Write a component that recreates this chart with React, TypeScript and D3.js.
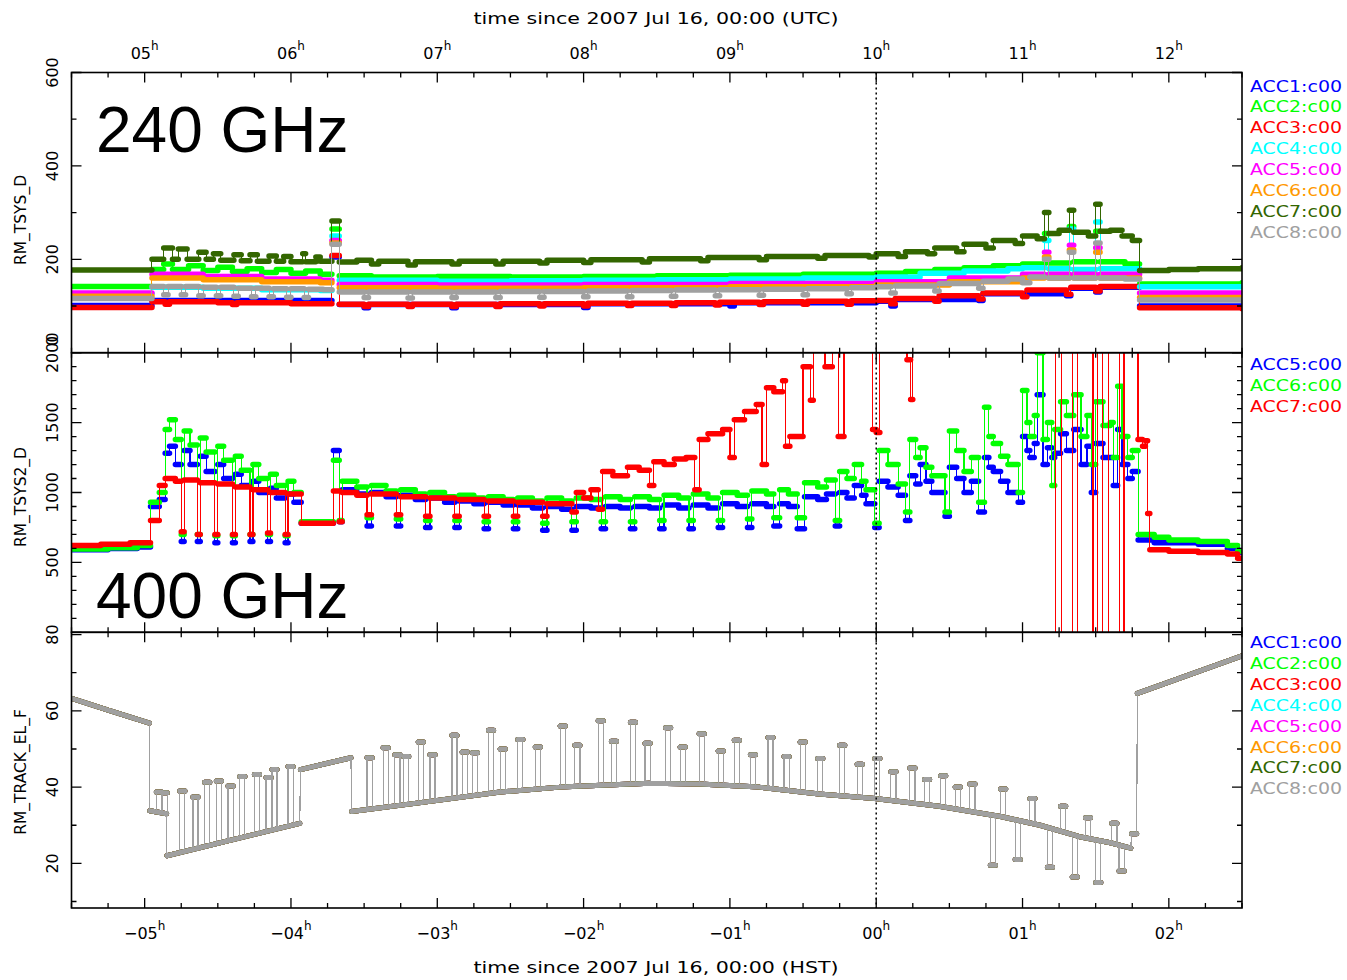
import * as d3 from 'd3';

type Pt = [number, number];
type Spike = [number, number, number];

const W = 1347;
const H = 980;
const X0 = 71.5;
const X1 = 1242;
const T0 = 4.5;
const T1 = 12.5;

const utcHourTicks = [5, 6, 7, 8, 9, 10, 11, 12];
const utcTickLabels = ['05', '06', '07', '08', '09', '10', '11', '12'];
const hstTickLabels = ['\u221205', '\u221204', '\u221203', '\u221202', '\u221201', '00', '01', '02'];

const accLabels = ['ACC1:c00', 'ACC2:c00', 'ACC3:c00', 'ACC4:c00', 'ACC5:c00', 'ACC6:c00', 'ACC7:c00', 'ACC8:c00'];
const accColors = ['#0000ff', '#00ff00', '#ff0000', '#00ffff', '#ff00ff', '#ff9900', '#336600', '#a0a0a0'];
const tsys2Labels = ['ACC5:c00', 'ACC6:c00', 'ACC7:c00'];
const tsys2Colors = ['#0000ff', '#00ff00', '#ff0000'];

// RM_TSYS_D (240 GHz), step samples [hour UTC, K]
const tsysAcc1: Pt[] = [[4.5,101],[5.05,112],[6.28,205],[6.33,103],[6.5,96],[6.53,103],[7.1,96],[7.13,103],[8.0,97],[8.03,105],[9.0,100],[9.03,107],[10.0,110],[10.1,100],[10.13,114],[10.7,112],[10.73,126],[11.3,122],[11.33,138],[11.5,130],[11.53,140],[11.8,100],[12.5,99]];
const tsysAcc2: Pt[] = [[4.5,142],[5.05,178],[5.13,190],[5.19,178],[5.3,186],[5.4,176],[5.5,183],[5.6,174],[5.7,180],[5.8,172],[5.9,178],[6.0,170],[6.1,175],[6.2,168],[6.28,265],[6.33,165],[6.55,162],[7.0,163],[7.5,162],[8.0,163],[8.5,165],[9.0,166],[9.5,168],[10.0,170],[10.2,174],[10.4,178],[10.6,182],[10.8,186],[11.0,190],[11.15,255],[11.18,192],[11.32,270],[11.35,195],[11.5,260],[11.53,195],[11.7,190],[11.8,147],[12.5,150]];
const tsysAcc3: Pt[] = [[4.5,97],[5.05,109],[5.14,104],[5.17,109],[5.5,107],[5.6,103],[5.63,107],[6.0,105],[6.28,208],[6.33,104],[6.5,99],[6.53,104],[6.8,99],[6.83,104],[7.1,99],[7.13,104],[7.4,99],[7.43,105],[7.7,100],[7.73,105],[8.0,100],[8.03,106],[8.3,101],[8.33,106],[8.6,101],[8.63,107],[8.9,102],[8.93,108],[9.2,103],[9.23,109],[9.5,104],[9.53,110],[9.8,104],[9.83,111],[10.0,112],[10.1,105],[10.13,116],[10.4,110],[10.43,122],[10.7,115],[10.73,128],[11.0,120],[11.03,134],[11.3,125],[11.33,140],[11.5,132],[11.53,142],[11.8,96],[12.5,94]];
const tsysAcc4: Pt[] = [[4.5,126],[5.05,140],[5.4,138],[5.8,135],[6.2,133],[6.28,250],[6.33,155],[7.0,153],[7.5,154],[8.0,155],[8.5,156],[9.0,158],[9.5,160],[10.0,162],[10.3,170],[10.6,175],[10.9,180],[11.0,182],[11.15,240],[11.18,180],[11.32,265],[11.35,178],[11.5,280],[11.53,180],[11.8,141],[12.5,142]];
const tsysAcc5: Pt[] = [[4.5,128],[5.05,168],[5.4,163],[5.8,158],[6.2,155],[6.28,240],[6.33,146],[7.0,145],[8.0,146],[9.0,148],[10.0,152],[10.5,160],[11.0,168],[11.15,215],[11.18,168],[11.32,230],[11.35,168],[11.5,225],[11.53,168],[11.8,128],[12.5,128]];
const tsysAcc6: Pt[] = [[4.5,121],[5.05,160],[5.4,156],[5.8,152],[6.2,150],[6.28,235],[6.33,139],[7.0,138],[8.0,139],[9.0,141],[10.0,145],[10.5,152],[11.0,160],[11.15,205],[11.18,160],[11.32,220],[11.35,160],[11.5,215],[11.53,160],[11.8,118],[12.5,118]];
const tsysAcc7: Pt[] = [[4.5,177],[5.05,200],[5.13,224],[5.19,200],[5.23,222],[5.29,200],[5.37,215],[5.42,200],[5.47,212],[5.52,198],[5.61,210],[5.66,197],[5.72,210],[5.77,196],[5.85,207],[5.9,196],[5.95,206],[6.0,195],[6.08,212],[6.1,195],[6.17,205],[6.2,196],[6.28,282],[6.33,194],[6.45,198],[6.55,190],[6.6,196],[6.8,188],[6.85,195],[7.1,190],[7.15,196],[7.4,190],[7.45,196],[7.7,192],[7.75,198],[8.0,193],[8.05,199],[8.4,194],[8.45,201],[8.8,197],[8.85,204],[9.2,199],[9.25,206],[9.6,202],[9.65,208],[9.95,205],[10.0,212],[10.15,206],[10.2,216],[10.35,212],[10.4,224],[10.55,216],[10.6,232],[10.75,224],[10.8,240],[10.95,234],[11.0,250],[11.1,244],[11.15,300],[11.18,255],[11.25,262],[11.32,305],[11.35,258],[11.45,250],[11.5,318],[11.53,260],[11.6,262],[11.68,250],[11.75,240],[11.8,176],[12.0,178],[12.2,180],[12.5,182]];
const tsysAcc8: Pt[] = [[4.5,116],[5.05,142],[5.13,124],[5.16,142],[5.25,124],[5.28,142],[5.37,122],[5.4,140],[5.49,122],[5.52,140],[5.61,121],[5.64,138],[5.73,120],[5.76,138],[5.85,120],[5.88,137],[5.97,119],[6.0,137],[6.09,118],[6.12,136],[6.22,135],[6.28,232],[6.33,130],[6.5,118],[6.53,130],[6.8,117],[6.83,130],[7.1,118],[7.13,130],[7.4,118],[7.43,131],[7.7,119],[7.73,131],[8.0,120],[8.03,132],[8.3,120],[8.33,133],[8.6,121],[8.63,134],[8.9,122],[8.93,135],[9.2,123],[9.23,136],[9.5,124],[9.53,137],[9.8,126],[9.83,139],[10.0,141],[10.1,128],[10.13,143],[10.4,132],[10.43,148],[10.7,138],[10.73,153],[10.9,158],[11.0,150],[11.05,162],[11.15,200],[11.18,160],[11.32,215],[11.35,160],[11.5,235],[11.53,160],[11.7,158],[11.8,113],[12.5,112]];

// RM_TSYS2_D (400 GHz)
const tsys2Acc5: Pt[] = [[4.5,590],[4.75,600],[4.95,610],[5.04,900],[5.1,950],[5.14,1280],[5.17,1330],[5.21,1200],[5.25,650],[5.27,1300],[5.31,1200],[5.36,650],[5.38,1260],[5.42,1150],[5.48,640],[5.5,1200],[5.54,1100],[5.6,640],[5.62,1130],[5.66,1050],[5.72,650],[5.74,1080],[5.78,1000],[5.84,650],[5.86,1030],[5.9,960],[5.96,640],[5.98,990],[6.02,930],[6.07,780],[6.29,1300],[6.33,790],[6.35,1020],[6.45,990],[6.52,760],[6.55,1000],[6.65,970],[6.72,760],[6.75,980],[6.85,950],[6.92,750],[6.95,960],[7.05,930],[7.12,750],[7.15,940],[7.25,920],[7.32,740],[7.35,930],[7.45,910],[7.52,740],[7.55,910],[7.65,890],[7.72,730],[7.75,900],[7.85,880],[7.92,730],[7.95,900],[8.05,890],[8.12,740],[8.15,900],[8.25,890],[8.32,740],[8.35,900],[8.45,890],[8.52,740],[8.55,910],[8.65,890],[8.72,740],[8.75,910],[8.85,890],[8.92,750],[8.95,920],[9.05,900],[9.12,750],[9.15,920],[9.25,900],[9.3,760],[9.34,920],[9.4,900],[9.46,740],[9.51,970],[9.6,950],[9.66,990],[9.72,760],[9.75,1000],[9.8,960],[9.85,1050],[9.9,980],[9.93,920],[9.99,750],[10.02,1080],[10.08,1040],[10.15,980],[10.2,800],[10.23,1120],[10.27,1060],[10.3,1200],[10.34,1080],[10.38,1000],[10.47,830],[10.5,1180],[10.55,1100],[10.6,1000],[10.65,1080],[10.7,860],[10.74,1250],[10.77,1180],[10.8,1150],[10.85,1080],[10.9,1000],[10.97,930],[11.0,1400],[11.03,1300],[11.05,1250],[11.08,1350],[11.1,1700],[11.14,1200],[11.17,1320],[11.2,1250],[11.22,1280],[11.26,1420],[11.3,1300],[11.35,1450],[11.4,1200],[11.44,1330],[11.47,1000],[11.5,1350],[11.55,1250],[11.6,1250],[11.62,1050],[11.65,1450],[11.68,1200],[11.72,1100],[11.75,1150],[11.79,660],[11.9,640],[12.0,640],[12.2,630],[12.4,600],[12.47,570]];
const tsys2Acc6: Pt[] = [[4.5,595],[4.75,605],[4.95,620],[5.04,930],[5.1,1000],[5.14,1450],[5.17,1520],[5.21,1380],[5.25,700],[5.27,1440],[5.31,1340],[5.36,700],[5.38,1390],[5.42,1290],[5.48,690],[5.5,1330],[5.54,1230],[5.6,690],[5.62,1260],[5.66,1160],[5.72,700],[5.74,1200],[5.78,1100],[5.84,700],[5.86,1130],[5.9,1050],[5.96,690],[5.98,1080],[6.02,1000],[6.07,790],[6.29,1230],[6.33,800],[6.35,1080],[6.45,1040],[6.52,820],[6.55,1050],[6.65,1010],[6.72,810],[6.75,1020],[6.85,990],[6.92,800],[6.95,1000],[7.05,970],[7.12,800],[7.15,980],[7.25,960],[7.32,790],[7.35,970],[7.45,950],[7.52,790],[7.55,960],[7.65,940],[7.72,780],[7.75,960],[7.85,940],[7.92,790],[7.95,960],[8.05,950],[8.12,790],[8.15,970],[8.25,950],[8.32,790],[8.35,970],[8.45,950],[8.52,800],[8.55,980],[8.65,960],[8.72,800],[8.75,990],[8.85,960],[8.92,800],[8.95,1000],[9.05,980],[9.12,810],[9.15,1010],[9.25,990],[9.3,820],[9.34,1020],[9.4,990],[9.46,820],[9.51,1070],[9.6,1040],[9.66,1090],[9.72,800],[9.75,1150],[9.8,1100],[9.85,1200],[9.9,1080],[9.93,1020],[9.99,780],[10.02,1300],[10.08,1200],[10.15,1060],[10.2,860],[10.23,1380],[10.27,1250],[10.3,1320],[10.34,1180],[10.38,1120],[10.47,860],[10.5,1440],[10.55,1300],[10.6,1150],[10.65,1250],[10.7,930],[10.74,1610],[10.77,1400],[10.8,1350],[10.85,1260],[10.9,1200],[10.97,1000],[11.0,1730],[11.03,1500],[11.05,1400],[11.08,1550],[11.1,2000],[11.14,1380],[11.17,1500],[11.2,1050],[11.22,1450],[11.26,1650],[11.3,1550],[11.35,1700],[11.4,1400],[11.44,1550],[11.47,1200],[11.5,1650],[11.55,1480],[11.6,1500],[11.62,1250],[11.65,1760],[11.68,1400],[11.72,1250],[11.75,1300],[11.79,700],[11.9,680],[12.0,660],[12.2,650],[12.4,620],[12.47,580]];
const tsys2Acc7: Pt[] = [[4.5,620],[4.7,630],[4.9,640],[5.04,800],[5.1,1050],[5.14,1100],[5.21,1080],[5.25,720],[5.27,1090],[5.36,700],[5.38,1070],[5.48,700],[5.5,1060],[5.6,700],[5.62,1040],[5.72,700],[5.74,1020],[5.84,710],[5.86,1000],[5.96,700],[5.98,990],[6.07,780],[6.29,1010],[6.33,790],[6.35,1000],[6.45,980],[6.52,840],[6.55,990],[6.72,840],[6.75,970],[6.92,830],[6.95,960],[7.12,830],[7.15,950],[7.32,830],[7.35,940],[7.52,830],[7.55,930],[7.72,830],[7.75,920],[7.92,860],[7.95,1000],[8.0,960],[8.05,1020],[8.1,880],[8.13,1150],[8.2,1120],[8.3,1180],[8.38,1160],[8.45,1050],[8.48,1220],[8.55,1200],[8.62,1240],[8.7,1250],[8.76,1020],[8.79,1380],[8.85,1420],[8.95,1450],[9.0,1250],[9.03,1520],[9.1,1580],[9.18,1630],[9.22,1200],[9.25,1750],[9.3,1720],[9.36,1800],[9.38,1330],[9.41,1400],[9.48,1400],[9.5,1900],[9.55,1660],[9.57,2050],[9.65,1900],[9.7,2100],[9.74,1400],[9.78,3000],[9.975,1450],[10.0,1430],[10.025,3000],[10.21,1950],[10.235,1665],[10.25,3000],[11.228,-200],[11.269,3000],[11.344,-200],[11.378,3000],[11.481,-200],[11.515,3000],[11.549,-200],[11.59,3000],[11.665,-200],[11.693,3000],[11.789,1380],[11.82,1330],[11.84,1370],[11.855,850],[11.87,590],[12.0,580],[12.2,570],[12.4,560],[12.47,530]];

// RM_TRACK_EL_F: tracked elevation [hour UTC, deg]; repeated hour = jump
const elevTrack: Pt[] = [[4.5,63.3],[4.75,60.2],[5.033,56.8],[5.035,33.8],[5.15,33.0],[5.152,22.0],[6.06,30.5],[6.065,44.6],[6.41,47.7],[6.415,33.6],[6.9,36.0],[7.43,38.7],[7.84,40.0],[8.45,41.0],[8.79,40.8],[9.2,40.0],[9.61,38.2],[9.99,37.0],[10.43,35.0],[10.85,32.3],[11.12,30.0],[11.39,27.0],[11.6,25.4],[11.74,24.0],[11.745,27.8],[11.78,27.8],[11.785,64.6],[12.5,74.4]];
// excursions [hour UTC, track deg, excursion deg]
const elevSpikes: Spike[] = [[5.08,33.6,38.7],[5.12,33.2,38.5],[5.24,22.8,39.0],[5.33,23.7,37.4],[5.41,24.4,41.3],[5.49,25.2,41.6],[5.57,25.9,40.3],[5.65,26.7,42.8],[5.75,27.6,43.3],[5.83,28.3,42.5],[5.87,28.7,44.6],[5.98,29.7,45.4],[6.52,34.1,47.7],[6.63,34.7,50.3],[6.71,35.1,48.5],[6.77,35.4,48.0],[6.87,35.9,51.8],[6.95,36.3,48.5],[7.10,37.0,53.6],[7.17,37.4,49.2],[7.24,37.7,49.0],[7.35,38.3,54.9],[7.43,38.7,50.0],[7.55,39.1,52.5],[7.67,39.5,50.5],[7.84,40.0,56.0],[7.94,40.2,51.0],[8.10,40.4,57.4],[8.19,40.6,52.0],[8.32,40.8,57.0],[8.42,41.0,51.5],[8.56,41.0,55.6],[8.66,40.9,50.5],[8.79,40.8,54.0],[8.92,40.6,49.5],[9.03,40.3,52.3],[9.14,40.1,48.5],[9.26,39.7,53.0],[9.37,39.2,48.0],[9.48,38.8,51.8],[9.60,38.2,47.5],[9.75,37.7,51.0],[9.87,37.4,46.0],[9.99,37.0,47.5],[10.10,36.5,44.0],[10.23,35.9,45.0],[10.33,35.5,42.0],[10.44,35.0,43.0],[10.54,34.3,40.0],[10.64,33.7,40.8],[10.78,32.8,19.5],[10.85,32.3,39.5],[10.95,31.5,21.0],[11.05,30.6,37.0],[11.17,29.4,19.0],[11.26,28.4,35.0],[11.34,27.5,16.4],[11.43,26.7,32.0],[11.50,26.2,15.0],[11.61,25.3,30.5],[11.66,24.9,18.0]];

const tsysSeries = [tsysAcc1, tsysAcc2, tsysAcc3, tsysAcc4, tsysAcc5, tsysAcc6, tsysAcc7, tsysAcc8];
const tsys2Series = [tsys2Acc5, tsys2Acc6, tsys2Acc7];

const x = d3.scaleLinear().domain([T0, T1]).range([X0, X1]);
const yTsys = d3.scaleLinear().domain([0, 600]).range([352.7, 72.5]);
const yTsys2 = d3.scaleLinear().domain([0, 2000]).range([632.3, 352.7]);
const yEl = d3.scaleLinear().domain([8.3, 80.6]).range([908, 632.3]);

const FONT = "'DejaVu Sans', sans-serif";

function stepPaths(data: Pt[], y: d3.ScaleLinear<number, number>) {
  const ext: Pt[] = [...data, [T1, data[data.length - 1][1]]];
  const thin = d3.line<Pt>().curve(d3.curveStepAfter).x(d => x(d[0])).y(d => y(d[1]))(ext) || '';
  const p = d3.path();
  for (let i = 0; i < ext.length - 1; i++) {
    const yy = y(ext[i][1]);
    p.moveTo(x(ext[i][0]), yy);
    p.lineTo(x(ext[i + 1][0]), yy);
  }
  return { thin, thick: p.toString() };
}

function trackPaths(track: Pt[], spikes: Spike[]) {
  const thinLine = d3.line<Pt>().x(d => x(d[0])).y(d => yEl(d[1]))(track) || '';
  const thick = d3.path();
  for (let i = 0; i < track.length - 1; i++) {
    if (track[i + 1][0] - track[i][0] < 0.01) continue;
    thick.moveTo(x(track[i][0]), yEl(track[i][1]));
    thick.lineTo(x(track[i + 1][0]), yEl(track[i + 1][1]));
  }
  const thin = d3.path();
  const w = 0.035;
  spikes.forEach(([t, b, pk]) => {
    thin.moveTo(x(t), yEl(b));
    thin.lineTo(x(t), yEl(pk));
    thin.moveTo(x(t + w), yEl(pk));
    thin.lineTo(x(t + w), yEl(b));
    thick.moveTo(x(t), yEl(pk));
    thick.lineTo(x(t + w), yEl(pk));
  });
  return { thin: thinLine + thin.toString(), thick: thick.toString() };
}

interface PanelDef {
  id: string;
  top: number;
  bottom: number;
  y: d3.ScaleLinear<number, number>;
  yTicks: number[];
  isMajor: (v: number) => boolean;
  labels: { v: number; text: string; at?: number }[];
  title: string;
  titleY: number;
}

const panels: PanelDef[] = [
  { id: 'p1', top: 72.5, bottom: 352.7, y: yTsys, yTicks: d3.range(0, 601, 100), isMajor: v => v % 200 === 0,
    labels: [{ v: 0, text: '0', at: 341 }, { v: 200, text: '200' }, { v: 400, text: '400' }, { v: 600, text: '600' }],
    title: 'RM_TSYS_D', titleY: 220 },
  { id: 'p2', top: 352.7, bottom: 632.3, y: yTsys2, yTicks: d3.range(0, 2001, 100), isMajor: v => v % 500 === 0,
    labels: [{ v: 500, text: '500' }, { v: 1000, text: '1000' }, { v: 1500, text: '1500' }, { v: 2000, text: '2000' }],
    title: 'RM_TSYS2_D', titleY: 497 },
  { id: 'p3', top: 632.3, bottom: 908, y: yEl, yTicks: d3.range(10, 81, 10), isMajor: v => v % 20 === 0,
    labels: [{ v: 20, text: '20' }, { v: 40, text: '40' }, { v: 60, text: '60' }, { v: 80, text: '80' }],
    title: 'RM_TRACK_EL_F', titleY: 772 },
];

const quarterTicks = d3.range(T0, T1 + 0.001, 0.25);

function PanelAxes({ p }: { p: PanelDef }) {
  const segs: string[] = [];
  quarterTicks.forEach(t => {
    const len = Number.isInteger(t) ? 10 : 5;
    const xx = x(t);
    segs.push(`M${xx},${p.top}v${len}`);
    segs.push(`M${xx},${p.bottom}v${-len}`);
  });
  p.yTicks.forEach(v => {
    const len = p.isMajor(v) ? 10 : 5;
    const yy = p.y(v);
    segs.push(`M${X0},${yy}h${len}`);
    segs.push(`M${X1},${yy}h${-len}`);
  });
  return (
    <g>
      <path d={segs.join('')} stroke="#000" strokeWidth={1.3} fill="none" />
      <rect x={X0} y={p.top} width={X1 - X0} height={p.bottom - p.top} fill="none" stroke="#000" strokeWidth={1.6} />
      {p.labels.map(l => (
        <text key={l.text} transform={`translate(58,${l.at ?? p.y(l.v)}) rotate(-90)`} textAnchor="middle"
          fontSize={16} fontFamily={FONT} fill="#000">{l.text}</text>
      ))}
      <text transform={`translate(26,${p.titleY}) rotate(-90)`} textAnchor="middle" fontSize={15.5}
        fontFamily={FONT} fill="#000">{p.title}</text>
    </g>
  );
}

function Legend({ labels, colors, y0 }: { labels: string[]; colors: string[]; y0: number }) {
  return (
    <g>
      {labels.map((l, i) => (
        <text key={l + i} x={1250} y={y0 + i * 20.9} fontSize={16} fontFamily={FONT} fill={colors[i]}
          textLength={92} lengthAdjust="spacingAndGlyphs">{l}</text>
      ))}
    </g>
  );
}

export default function App() {
  const topPaths = tsysSeries.map(s => stepPaths(s, yTsys));
  const midPaths = tsys2Series.map(s => stepPaths(s, yTsys2));
  const elPaths = trackPaths(elevTrack, elevSpikes);

  return (
    <svg width={W} height={H} style={{ position: 'absolute', left: 0, top: 0, background: '#fff' }}>
      <defs>
        {panels.map(p => (
          <clipPath id={`clip-${p.id}`} key={p.id}>
            <rect x={X0} y={p.top} width={X1 - X0} height={p.bottom - p.top} />
          </clipPath>
        ))}
      </defs>
      <rect x={0} y={0} width={W} height={H} fill="#fff" />

      <g clipPath="url(#clip-p1)">
        {topPaths.map((pp, i) => (
          <g key={i}>
            <path d={pp.thin} fill="none" stroke={accColors[i]} strokeWidth={1} shapeRendering="crispEdges" />
            <path d={pp.thick} fill="none" stroke={accColors[i]} strokeWidth={5.5} strokeLinecap="round" />
          </g>
        ))}
      </g>

      <g clipPath="url(#clip-p2)">
        {midPaths.map((pp, i) => (
          <g key={i}>
            <path d={pp.thin} fill="none" stroke={tsys2Colors[i]} strokeWidth={1.2} shapeRendering="crispEdges" />
            <path d={pp.thick} fill="none" stroke={tsys2Colors[i]} strokeWidth={5.5} strokeLinecap="round" />
          </g>
        ))}
      </g>

      <g clipPath="url(#clip-p3)">
        {accColors.map((c, i) => (
          <g key={i}>
            <path d={elPaths.thin} fill="none" stroke={c} strokeWidth={1.2} shapeRendering="crispEdges" />
            <path d={elPaths.thick} fill="none" stroke={c} strokeWidth={5} strokeLinecap="round" />
          </g>
        ))}
      </g>

      <line x1={x(10)} x2={x(10)} y1={72.5} y2={908} stroke="#000" strokeWidth={1.5} strokeDasharray="2 3" />

      {panels.map(p => <PanelAxes key={p.id} p={p} />)}

      {utcHourTicks.map((h, i) => (
        <text key={'u' + h} x={x(h)} y={59} textAnchor="middle" fontSize={16} fontFamily={FONT}>
          {utcTickLabels[i]}<tspan dy={-9} fontSize={12}>h</tspan>
        </text>
      ))}
      {utcHourTicks.map((h, i) => (
        <text key={'s' + h} x={x(h)} y={939} textAnchor="middle" fontSize={16} fontFamily={FONT}>
          {hstTickLabels[i]}<tspan dy={-9} fontSize={12}>h</tspan>
        </text>
      ))}

      <text x={656} y={24} textAnchor="middle" fontSize={16} fontFamily={FONT} textLength={365}
        lengthAdjust="spacingAndGlyphs">time since 2007 Jul 16, 00:00 (UTC)</text>
      <text x={656} y={973} textAnchor="middle" fontSize={16} fontFamily={FONT} textLength={365}
        lengthAdjust="spacingAndGlyphs">time since 2007 Jul 16, 00:00 (HST)</text>

      <Legend labels={accLabels} colors={accColors} y0={91.5} />
      <Legend labels={tsys2Labels} colors={tsys2Colors} y0={370} />
      <Legend labels={accLabels} colors={accColors} y0={648} />

      <text x={96} y={152} fontSize={64} fontFamily="'Liberation Sans', Arial, sans-serif">240 GHz</text>
      <text x={96} y={618} fontSize={64} fontFamily="'Liberation Sans', Arial, sans-serif">400 GHz</text>
    </svg>
  );
}
